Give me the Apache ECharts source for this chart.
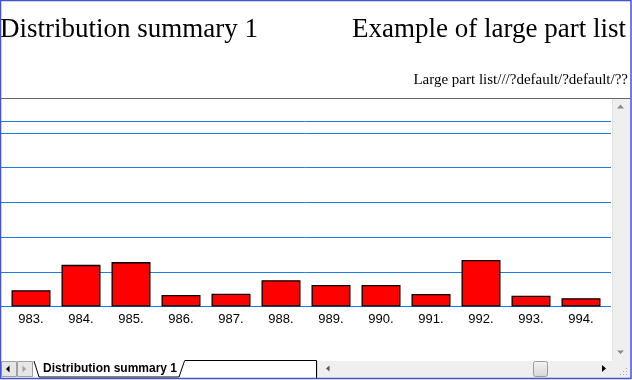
<!DOCTYPE html>
<html><head><meta charset="utf-8">
<script src="https://cdn.jsdelivr.net/npm/echarts@6/dist/echarts.min.js"></script>
<style>html,body{margin:0;padding:0;background:#fff;overflow:hidden}#c{width:632px;height:380px}</style>
</head><body><div id="c"></div>
<script>
// ---- data ----
const chartTitle = 'Distribution summary 1';
const chartRightTitle = 'Example of large part list';
const chartSubtitle = 'Large part list///?default/?default/??';
const sheetTabName = 'Distribution summary 1';
const categories = ['983.', '984.', '985.', '986.', '987.', '988.', '989.', '990.', '991.', '992.', '993.', '994.'];
const values = [0.47, 1.20, 1.28, 0.33, 0.37, 0.76, 0.62, 0.62, 0.36, 1.34, 0.31, 0.24];
const yMin = 0, yMax = 5, yStep = 1;

// ---- styles ----
const blue = '#1a7be8';
const frame = '#4152d2';
const chromeBg = '#efefef';

const chart = echarts.init(document.getElementById('c'), null, {renderer: 'canvas'});
chart.setOption({
  animation: false,
  backgroundColor: '#fff',
  title: [
    {text: chartTitle, left: 0, top: 16, padding: 0,
     textStyle: {fontFamily: 'Liberation Serif', fontSize: 27, fontWeight: 'normal', color: '#000'}},
    {text: chartRightTitle, right: 6, top: 16, padding: 0,
     textStyle: {fontFamily: 'Liberation Serif', fontSize: 27, fontWeight: 'normal', color: '#000'}},
    {text: chartSubtitle, right: 4, top: 73, padding: 0,
     textStyle: {fontFamily: 'Liberation Serif', fontSize: 15, fontWeight: 'normal', color: '#000'}}
  ],
  grid: [
    {left: 0, width: 611, top: 133, height: 173.5},
    {left: 6, width: 600, top: 133, height: 173.5}
  ],
  xAxis: [
    {gridIndex: 0, type: 'value', show: false, min: 0, max: 1},
    {gridIndex: 1, type: 'category', data: categories,
     axisLine: {show: false}, axisTick: {show: false}, splitLine: {show: false},
     axisLabel: {color: '#000', fontFamily: 'Liberation Sans', fontSize: 13, margin: 6}}
  ],
  yAxis: [
    {gridIndex: 0, type: 'value', min: yMin, max: yMax, interval: yStep,
     axisLine: {show: false}, axisTick: {show: false}, axisLabel: {show: false},
     splitLine: {show: true, lineStyle: {color: blue, width: 1}}},
    {gridIndex: 1, type: 'value', min: yMin, max: yMax, interval: yStep, show: false,
     splitLine: {show: false}}
  ],
  series: [{
    type: 'bar', xAxisIndex: 1, yAxisIndex: 1, data: values, barWidth: 39,
    itemStyle: {color: '#ff0000', borderColor: '#000', borderWidth: 1.3},
    z: 3
  }],
  graphic: [
    // chart border line above plot
    {type: 'line', shape: {x1: 0, y1: 121.5, x2: 611, y2: 121.5}, style: {stroke: blue, lineWidth: 1}},
    // gray separator
    {type: 'line', shape: {x1: 0, y1: 98.5, x2: 630, y2: 98.5}, style: {stroke: '#666', lineWidth: 1}},
    // vertical scrollbar
    {type: 'rect', shape: {x: 612, y: 99, width: 18, height: 261}, style: {fill: chromeBg}},
    {type: 'line', shape: {x1: 612.5, y1: 99, x2: 612.5, y2: 360}, style: {stroke: '#e2e2e2'}},
    {type: 'polygon', shape: {points: [[617, 108.5], [624, 108.5], [620.5, 104.5]]}, style: {fill: '#8a8a8a'}},
    {type: 'polygon', shape: {points: [[617, 350.5], [624, 350.5], [620.5, 354]]}, style: {fill: '#8a8a8a'}},
    // bottom chrome background
    {type: 'rect', shape: {x: 0, y: 360, width: 632, height: 20}, style: {fill: '#fff'}},
    // nav buttons
    {type: 'rect', shape: {x: 1.5, y: 361.5, width: 15, height: 15}, style: {fill: '#e6e6e6', stroke: '#a0a0a0'}},
    {type: 'rect', shape: {x: 17.5, y: 361.5, width: 15, height: 15}, style: {fill: '#e6e6e6', stroke: '#a0a0a0'}},
    {type: 'polygon', shape: {points: [[6, 369], [9.5, 365.5], [9.5, 372.5]]}, style: {fill: '#000'}},
    {type: 'polygon', shape: {points: [[26, 369], [22.5, 365.5], [22.5, 372.5]]}, style: {fill: '#a0a0a0'}},
    // active tab
    {type: 'polyline', shape: {points: [[34, 361], [39, 377], [179, 377], [184.5, 361]]}, style: {stroke: '#000', fill: null, lineWidth: 1}},
    {type: 'text', x: 43, y: 363, style: {text: sheetTabName, fill: '#000', font: 'bold 12px "Liberation Sans", Arial, sans-serif'}},
    // inactive area
    {type: 'polyline', shape: {points: [[184.5, 360.5], [316.5, 360.5], [316.5, 378]]}, style: {stroke: '#000', lineWidth: 1}},
    // horizontal scrollbar
    {type: 'rect', shape: {x: 317, y: 361, width: 295, height: 17}, style: {fill: chromeBg}},
    {type: 'line', shape: {x1: 317.5, y1: 361, x2: 317.5, y2: 378}, style: {stroke: '#d8d8d8'}},
    {type: 'polygon', shape: {points: [[326, 368.5], [329.5, 365.5], [329.5, 371.5]]}, style: {fill: '#555'}},
    {type: 'rect', shape: {x: 533.5, y: 361.5, width: 14, height: 15, r: 2},
     style: {fill: new echarts.graphic.LinearGradient(0, 0, 0, 1, [{offset: 0, color: '#f4f4f4'}, {offset: 1, color: '#d6d6d6'}]), stroke: '#9c9c9c'}},
    {type: 'polygon', shape: {points: [[602, 365], [602, 372], [606, 368.5]]}, style: {fill: '#000'}},
    // corner grip
    {type: 'rect', shape: {x: 612, y: 360, width: 18, height: 18}, style: {fill: chromeBg}},
    {type: 'rect', shape: {x: 626, y: 374, width: 1, height: 1}, style: {fill: '#aaa'}},
    {type: 'rect', shape: {x: 623, y: 374, width: 1, height: 1}, style: {fill: '#aaa'}},
    {type: 'rect', shape: {x: 626, y: 371, width: 1, height: 1}, style: {fill: '#aaa'}},
    {type: 'rect', shape: {x: 620, y: 374, width: 1, height: 1}, style: {fill: '#aaa'}},
    {type: 'rect', shape: {x: 623, y: 371, width: 1, height: 1}, style: {fill: '#aaa'}},
    {type: 'rect', shape: {x: 626, y: 368, width: 1, height: 1}, style: {fill: '#aaa'}},
    // window frame
    {type: 'rect', shape: {x: 0.5, y: 0.5, width: 630.5, height: 378}, style: {fill: null, stroke: frame, lineWidth: 1.5}, z: 100}
  ]
});
</script></body></html>
